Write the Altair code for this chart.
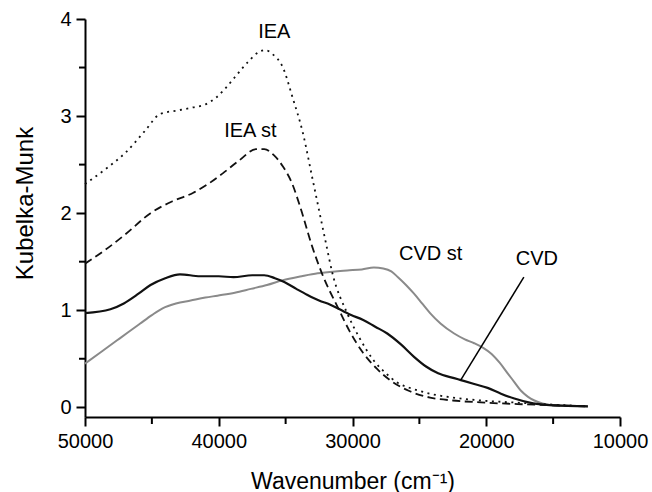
import altair as alt
import pandas as pd

# ---- data ----
iea_x = [50000, 48500, 47000, 45500, 44400, 43000, 41900, 41000, 40200, 39600, 38800, 37800,
         37000, 36500, 36000, 35200, 34500, 33700, 33000, 32000, 31500, 30400, 29500, 28400,
         27500, 26600, 25500, 24200, 22500, 20400, 18000, 15400, 12400]
iea_y = [2.30, 2.45, 2.62, 2.85, 3.02, 3.06, 3.09, 3.12, 3.19, 3.27, 3.40, 3.56,
         3.66, 3.68, 3.64, 3.50, 3.20, 2.82, 2.36, 1.70, 1.38, 0.97, 0.72, 0.48,
         0.35, 0.25, 0.19, 0.14, 0.10, 0.07, 0.05, 0.03, 0.01]

ieast_x = [50000, 48500, 47000, 45100, 43500, 41900, 40800, 39700, 38500, 37200, 36600, 35900,
           35200, 34500, 33900, 33000, 32200, 31100, 30200, 29200, 28200, 27200, 25800, 24200,
           22500, 20400, 17000, 12400]
ieast_y = [1.48, 1.62, 1.78, 2.00, 2.12, 2.21, 2.30, 2.41, 2.54, 2.66, 2.66, 2.60,
           2.48, 2.30, 2.06, 1.65, 1.35, 1.03, 0.78, 0.56, 0.40, 0.28, 0.17, 0.10,
           0.07, 0.05, 0.03, 0.01]

cvd_x = [50000, 48100, 47100, 46000, 45100, 44000, 42900, 41400, 40000, 38900, 37500, 36600,
         35800, 35100, 34200, 33400, 32500, 31700, 30100, 29200, 28300, 27400, 26400, 25400,
         24500, 23600, 22400, 21900, 20900, 19900, 18900, 17900, 16500, 15000, 12400]
cvd_y = [0.97, 1.01, 1.07, 1.17, 1.26, 1.33, 1.37, 1.35, 1.35, 1.34, 1.36, 1.36,
         1.33, 1.29, 1.22, 1.16, 1.10, 1.06, 0.95, 0.90, 0.83, 0.76, 0.65, 0.52,
         0.42, 0.35, 0.30, 0.28, 0.24, 0.20, 0.14, 0.09, 0.04, 0.02, 0.01]

cvdst_x = [50000, 48800, 47600, 46800, 45900, 45000, 44200, 43200, 42100, 41000, 40100, 38800,
           37600, 36400, 35200, 33800, 32600, 31300, 30400, 29300, 28400, 27700, 27100, 26600,
           26000, 25400, 24800, 24200, 23400, 22400, 21600, 20900, 20200, 19600, 19000, 18400,
           17900, 17400, 16900, 16400, 15800, 14900, 12400]
cvdst_y = [0.45, 0.57, 0.69, 0.77, 0.86, 0.95, 1.02, 1.07, 1.10, 1.13, 1.15, 1.18,
           1.22, 1.26, 1.31, 1.35, 1.38, 1.40, 1.41, 1.42, 1.44, 1.43, 1.40, 1.34,
           1.26, 1.17, 1.07, 0.97, 0.86, 0.76, 0.70, 0.66, 0.61, 0.55, 0.46, 0.35,
           0.26, 0.17, 0.11, 0.07, 0.04, 0.02, 0.01]

label_text = ["IEA", "IEA st", "CVD st", "CVD"]
label_x = [35850, 37640, 24160, 16220]
label_y = [3.87, 2.85, 1.58, 1.53]

leader_x = [17190]
leader_y = [1.34]
leader_x2 = [21910]
leader_y2 = [0.28]

x_ticks = [50000, 40000, 30000, 20000, 10000]
x_minor = [45000, 35000, 25000, 15000]
y_ticks = [0, 1, 2, 3, 4]
y_minor = [0.5, 1.5, 2.5, 3.5]

FONT = "Liberation Sans"
W, H = 535, 398

def frame(xs, ys):
    return pd.DataFrame({"x": xs, "y": ys})

iea = frame(iea_x, iea_y)
ieast = frame(ieast_x, ieast_y)
cvd = frame(cvd_x, cvd_y)
cvdst = frame(cvdst_x, cvdst_y)
labels = pd.DataFrame({"t": label_text, "x": label_x, "y": label_y})
leader = pd.DataFrame({"x": leader_x, "y": leader_y, "x2": leader_x2, "y2": leader_y2})
xminor_df = pd.DataFrame({"x": x_minor})
yminor_df = pd.DataFrame({"y": y_minor})

xscale = alt.Scale(domain=[10000, 50000], reverse=True, nice=False, zero=False)
yscale = alt.Scale(domain=[-0.1, 4], nice=False, zero=False)

x_axis = alt.Axis(values=x_ticks, format="d", orient="bottom", grid=False,
                  labelFontSize=20, labelFont=FONT, labelColor="black", labelPadding=5,
                  labelFlush=False, labelOverlap=False,
                  tickSize=9, tickWidth=2, tickColor="black",
                  domainWidth=2, domainColor="black",
                  title="Wavenumber (cm⁻¹)", titleFont=FONT, titleFontSize=23,
                  titleFontWeight="normal", titleColor="black",
                  titleBaseline="alphabetic", titleY=71)
y_axis = alt.Axis(values=y_ticks, format="d", orient="left", grid=False,
                  labelFontSize=20, labelFont=FONT, labelColor="black", labelPadding=5,
                  labelFlush=False, labelOverlap=False,
                  tickSize=9, tickWidth=2, tickColor="black",
                  domainWidth=2, domainColor="black",
                  title="Kubelka-Munk", titleFont=FONT, titleFontSize=24,
                  titleFontWeight="normal", titleColor="black",
                  titleBaseline="alphabetic", titleX=-53, titleY=184)

# other layers share the scales and merge into the axes above
base_x = alt.X("x:Q", scale=xscale)
base_y = alt.Y("y:Q", scale=yscale)

l_cvdst = alt.Chart(cvdst).mark_line(color="#8a8a8a", strokeWidth=2, interpolate="monotone").encode(
    x=alt.X("x:Q", scale=xscale, axis=x_axis),
    y=alt.Y("y:Q", scale=yscale, axis=y_axis),
)
l_cvd = alt.Chart(cvd).mark_line(color="#111111", strokeWidth=2.2, interpolate="monotone").encode(
    x=base_x, y=base_y)
l_iea = alt.Chart(iea).mark_line(color="#111111", strokeWidth=1.8, strokeDash=[2, 4.5],
                                 interpolate="monotone").encode(x=base_x, y=base_y)
l_ieast = alt.Chart(ieast).mark_line(color="#111111", strokeWidth=1.8, strokeDash=[8, 4.5],
                                     interpolate="monotone").encode(x=base_x, y=base_y)

txt = alt.Chart(labels).mark_text(font=FONT, fontSize=20, color="black",
                                  align="center", baseline="middle").encode(
    x=base_x, y=base_y, text="t:N")

rule = alt.Chart(leader).mark_rule(color="black", strokeWidth=1.5).encode(
    x=base_x, y=base_y, x2="x2:Q", y2="y2:Q")

# minor ticks (outside the plot area, like the axis ticks)
xminor = alt.Chart(xminor_df).mark_tick(color="black", thickness=2, size=7,
                                        orient="vertical", opacity=1).encode(
    x=base_x, y=alt.value(H + 3.5))
yminor = alt.Chart(yminor_df).mark_tick(color="black", thickness=2, size=6,
                                        orient="horizontal", opacity=1).encode(
    y=base_y, x=alt.value(-3))

chart = alt.layer(l_cvdst, l_cvd, l_iea, l_ieast, rule, txt, xminor, yminor).properties(
    width=W, height=H,
    padding={"left": 85, "top": 19, "right": 32, "bottom": 75},
    autosize=alt.AutoSizeParams(type="none"),
    background="white",
).configure_view(stroke=None)

chart.save("out.html", embed_options={"renderer": "svg", "actions": False})
